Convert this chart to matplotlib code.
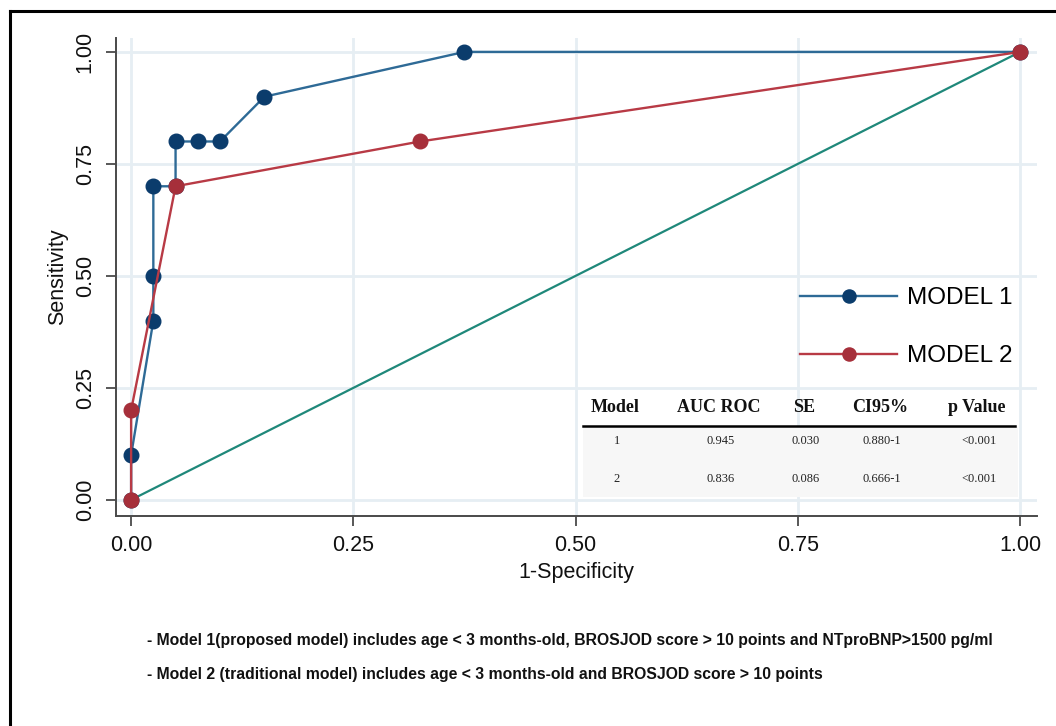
import matplotlib
matplotlib.use("Agg")
import matplotlib.pyplot as plt
from matplotlib.lines import Line2D
from matplotlib.patches import Rectangle

# ROC curve coordinates (1 - specificity, sensitivity)
model1_fpr = [0.0, 0.0, 0.025, 0.025, 0.025, 0.05, 0.05, 0.075, 0.10, 0.15, 0.375, 1.0]
model1_tpr = [0.0, 0.10, 0.40, 0.50, 0.70, 0.70, 0.80, 0.80, 0.80, 0.90, 1.00, 1.00]
model2_fpr = [0.0, 0.0, 0.05, 0.325, 1.0]
model2_tpr = [0.0, 0.20, 0.70, 0.80, 1.00]
ref_line = [0.0, 1.0]

ticks = [0.0, 0.25, 0.5, 0.75, 1.0]
tick_labels = ["0.00", "0.25", "0.50", "0.75", "1.00"]

# Summary table
table_header = ["Model", "AUC ROC", "SE", "CI95%", "p Value"]
table_rows = [
    ["1", "0.945", "0.030", "0.880-1", "<0.001"],
    ["2", "0.836", "0.086", "0.666-1", "<0.001"],
]

footnotes = [
    "- Model 1(proposed model) includes age < 3 months-old, BROSJOD score > 10 points and NTproBNP>1500 pg/ml",
    "- Model 2 (traditional model) includes age < 3 months-old and BROSJOD score > 10 points",
]

BLUE_LINE = "#2e6a96"
BLUE_MARK = "#0b3c6c"
RED_LINE = "#b83a45"
RED_MARK = "#a62f3a"
TEAL = "#1f887a"
GRID = "#e6eef3"
SPINE = "#4a4a4a"

plt.rcParams["font.family"] = ["Liberation Sans", "DejaVu Sans"]

W, H = 1056, 726
fig = plt.figure(figsize=(W / 100, H / 100), dpi=100)
fig.patch.set_facecolor("white")

ax = fig.add_axes([116 / W, 1 - 516 / H, (1037 - 116) / W, (516 - 38) / H])
ax.set_xlim(-0.017, 1.019)
ax.set_ylim(-0.036, 1.031)

ax.set_xticks(ticks)
ax.set_xticklabels(tick_labels)
ax.set_yticks(ticks)
ax.set_yticklabels(tick_labels, rotation=90, va="center")
ax.grid(True, color=GRID, linewidth=2.0)
ax.set_axisbelow(True)

for side in ("top", "right"):
    ax.spines[side].set_visible(False)
for side in ("left", "bottom"):
    ax.spines[side].set_color(SPINE)
    ax.spines[side].set_linewidth(1.4)

ax.tick_params(axis="both", colors=SPINE, length=7, width=1.3, labelsize=15.5,
               labelcolor="#111111")
ax.tick_params(axis="y", pad=7.5)
ax.tick_params(axis="x", pad=7)

ax.set_xlabel("1-Specificity", fontsize=15.5, labelpad=4, color="#111111")
ax.set_ylabel("Sensitivity", fontsize=15.5, labelpad=5, color="#111111")

# chance diagonal
ax.plot(ref_line, ref_line, color=TEAL, linewidth=1.6, zorder=2)

ax.plot(model1_fpr, model1_tpr, color=BLUE_LINE, linewidth=1.7, marker="o",
        markersize=10.5, markerfacecolor=BLUE_MARK, markeredgecolor=BLUE_MARK,
        label="MODEL 1", zorder=3)
ax.plot(model2_fpr, model2_tpr, color=RED_LINE, linewidth=1.7, marker="o",
        markersize=10.5, markerfacecolor=RED_MARK, markeredgecolor=RED_MARK,
        label="MODEL 2", zorder=4)

def axx(px):
    return (px - 116) / (1037 - 116)

def axy(py):
    return (516 - py) / (516 - 38)

leg = ax.legend(loc="upper left", bbox_to_anchor=(axx(800), axy(287)),
                frameon=False, fontsize=17.5, handlelength=4.0, handletextpad=0.42,
                labelspacing=1.5, borderpad=0, borderaxespad=0, numpoints=1,
                markerscale=0.9)

# table block
ax.add_patch(Rectangle((axx(583), axy(497)), axx(1018) - axx(583), axy(427) - axy(497),
                       transform=ax.transAxes, facecolor="#f7f7f7", edgecolor="none",
                       zorder=1.5))
ax.plot([axx(583), axx(1015)], [axy(426), axy(426)], transform=ax.transAxes,
        color="black", linewidth=1.8, zorder=5)

col_x = [615, 719, 804, 880, 977]
serif = ["Liberation Serif", "DejaVu Serif"]
for cx, txt in zip(col_x, table_header):
    ax.text(axx(cx), axy(408), txt, transform=ax.transAxes, ha="center", va="center",
            fontsize=13, fontweight="bold", family=serif, color="#111111", zorder=6)
for ry, row in zip([441, 479], table_rows):
    for cx, txt in zip(col_x, row):
        ax.text(axx(cx + 2), axy(ry), txt, transform=ax.transAxes, ha="center",
                va="center", fontsize=9, family=serif, color="#222222", zorder=6)

# notes below the plot
for fy, note in zip([640, 675], footnotes):
    fig.text(147 / W, 1 - fy / H, note, ha="left", va="center", fontsize=11.3,
             fontweight="bold", color="#111111")

# frame lines along the top and left edges
fig.add_artist(Line2D([10 / W, 1.0], [1 - 11 / H, 1 - 11 / H], color="black",
                      linewidth=2.2, transform=fig.transFigure))
fig.add_artist(Line2D([10 / W, 10 / W], [0.0, 1 - 11 / H], color="black",
                      linewidth=2.2, transform=fig.transFigure))

fig.savefig("out.png", dpi=100, facecolor="white")
